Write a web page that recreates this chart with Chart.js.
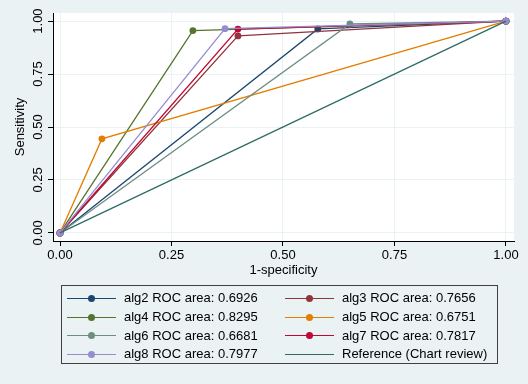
<!DOCTYPE html>
<html>
<head>
<meta charset="utf-8">
<script src="https://cdn.jsdelivr.net/npm/chart.js@4.4.1/dist/chart.umd.min.js"></script>
<style>
  html, body { margin: 0; padding: 0; background: #eaf2f3; }
  #wrap { position: relative; width: 528px; height: 384px; }
  canvas { position: absolute; left: 0; top: 0; }
  #legend { position: absolute; left: 61px; top: 285px; width: 437px; height: 79px;
    border: 1px solid #404040; box-sizing: border-box; font-family: "Liberation Sans", Arial, sans-serif;
    font-size: 13px; color: #000; }
  .item { position: absolute; height: 16px; line-height: 16px; white-space: nowrap; }
  .sample { position: absolute; top: 7.5px; width: 49px; height: 1.3px; }
  .dot { position: absolute; top: 4.5px; width: 7px; height: 7px; border-radius: 50%; }
  .lbl { position: absolute; top: 0; }
</style>
</head>
<body>
<div id="wrap">
  <canvas id="c" width="528" height="384"></canvas>
  <div id="legend"></div>
</div>
<script>
// ---- data ----
const seriesNames = ['alg2', 'alg3', 'alg4', 'alg5', 'alg6', 'alg7', 'alg8'];
const rocAreas = ['0.6926', '0.7656', '0.8295', '0.6751', '0.6681', '0.7817', '0.7977'];
const alg2X = [0, 0.578, 1];  const alg2Y = [0, 0.963, 1];
const alg3X = [0, 0.399, 1];  const alg3Y = [0, 0.930, 1];
const alg4X = [0, 0.298, 1];  const alg4Y = [0, 0.955, 1];
const alg5X = [0, 0.094, 1];  const alg5Y = [0, 0.444, 1];
const alg6X = [0, 0.650, 1];  const alg6Y = [0, 0.986, 1];
const alg7X = [0, 0.399, 1];  const alg7Y = [0, 0.962, 1];
const alg8X = [0, 0.370, 1];  const alg8Y = [0, 0.964, 1];
const refX = [0, 1];          const refY = [0, 1];
const refName = 'Reference (Chart review)';
const xTickValues = [0, 0.25, 0.5, 0.75, 1];
const xTickLabels = ['0.00', '0.25', '0.50', '0.75', '1.00'];
const yTickValues = [0, 0.25, 0.5, 0.75, 1];
const yTickLabels = ['0.00', '0.25', '0.50', '0.75', '1.00'];

const colors = ['#1a476f', '#90353b', '#55752f', '#e37e00', '#6e8e84', '#c10534', '#938dd2'];
const refColor = '#2d6d66';

const xs = [alg2X, alg3X, alg4X, alg5X, alg6X, alg7X, alg8X];
const ys = [alg2Y, alg3Y, alg4Y, alg5Y, alg6Y, alg7Y, alg8Y];
const toPts = (X, Y) => X.map((x, i) => ({ x: x, y: Y[i] }));

const datasets = seriesNames.map((n, i) => ({
  label: n + ' ROC area: ' + rocAreas[i],
  data: toPts(xs[i], ys[i]),
  borderColor: colors[i],
  backgroundColor: colors[i],
  borderWidth: 1.3,
  pointRadius: 3.4,
  pointBorderWidth: 0,
  pointBackgroundColor: colors[i],
  tension: 0,
  order: 20 - i
}));
datasets.push({
  label: refName,
  data: toPts(refX, refY),
  borderColor: refColor,
  backgroundColor: refColor,
  borderWidth: 1.3,
  pointRadius: 0,
  tension: 0,
  order: 1
});

const FONT = { family: '"Liberation Sans", Arial, sans-serif', size: 13 };

new Chart(document.getElementById('c'), {
  type: 'line',
  data: { datasets },
  options: {
    responsive: false,
    animation: false,
    events: [],
    layout: { padding: { top: 13, right: 14, bottom: 106, left: 0 } },
    plugins: { legend: { display: false }, tooltip: { enabled: false } },
    scales: {
      x: {
        type: 'linear', min: -0.0157, max: 1.018,
        afterBuildTicks: s => { s.ticks = xTickValues.map(v => ({ value: v })); },
        afterFit: s => { s.height = 37; },
        ticks: { font: FONT, color: '#000', padding: 2, maxRotation: 0, minRotation: 0,
          callback: v => xTickLabels[xTickValues.indexOf(v)] },
        grid: { color: '#eaf2f3', lineWidth: 1, tickColor: '#000', tickLength: 5, drawTicks: true },
        border: { display: true, color: '#000', width: 1 },
        title: { display: true, text: '1-specificity', font: FONT, color: '#000', padding: { top: 0, bottom: 0 } }
      },
      y: {
        type: 'linear', min: -0.038, max: 1.038,
        afterBuildTicks: s => { s.ticks = yTickValues.map(v => ({ value: v })); },
        afterFit: s => { s.width = 53; },
        ticks: { font: FONT, color: '#000', padding: -3, minRotation: 90, maxRotation: 90, crossAlign: 'center',
          callback: v => yTickLabels[yTickValues.indexOf(v)] },
        grid: { color: '#eaf2f3', lineWidth: 1, tickColor: '#000', tickLength: 5, drawTicks: true },
        border: { display: true, color: '#000', width: 1 },
        title: { display: true, text: 'Sensitivity', font: FONT, color: '#000', padding: { top: 13, bottom: 0 } }
      }
    }
  },
  plugins: [{
    id: 'plotbg',
    beforeDraw(chart) {
      const { ctx, chartArea: a } = chart;
      ctx.save();
      ctx.fillStyle = '#eaf2f3';
      ctx.fillRect(0, 0, chart.width, chart.height);
      ctx.fillStyle = '#ffffff';
      ctx.fillRect(a.left, a.top, a.right - a.left, a.bottom - a.top);
      ctx.restore();
    }
  }]
});

// ---- legend (two columns, line + marker samples) ----
const legend = document.getElementById('legend');
const legendItems = datasets.map(d => ({ text: d.label, color: d.borderColor, dot: d.pointRadius > 0 }));
const colLeft = [5, 223];
const rowTop = [4, 23, 41.5, 60];
legendItems.forEach((it, i) => {
  const col = i % 2, row = Math.floor(i / 2);
  const el = document.createElement('div');
  el.className = 'item';
  el.style.left = colLeft[col] + 'px';
  el.style.top = rowTop[row] + 'px';
  const line = document.createElement('div');
  line.className = 'sample';
  line.style.left = '0px';
  line.style.background = it.color;
  el.appendChild(line);
  if (it.dot) {
    const dot = document.createElement('div');
    dot.className = 'dot';
    dot.style.left = '21px';
    dot.style.background = it.color;
    el.appendChild(dot);
  }
  const lbl = document.createElement('span');
  lbl.className = 'lbl';
  lbl.style.left = '57px';
  lbl.textContent = it.text;
  el.appendChild(lbl);
  legend.appendChild(el);
});
</script>
</body>
</html>
